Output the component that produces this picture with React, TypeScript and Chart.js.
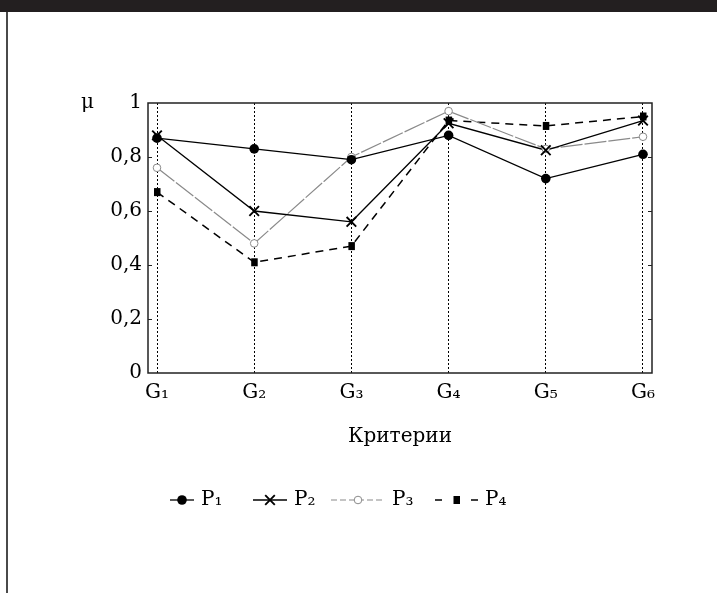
import React, { useEffect, useRef } from 'react';
import { Chart, registerables } from 'chart.js';

Chart.register(...registerables);

// ---- Data ----
const categories = ['G₁', 'G₂', 'G₃', 'G₄', 'G₅', 'G₆'];
const seriesNames = ['P₁', 'P₂', 'P₃', 'P₄'];
const p1Values = [0.87, 0.83, 0.79, 0.88, 0.72, 0.81];
const p2Values = [0.88, 0.6, 0.56, 0.925, 0.825, 0.935];
const p3Values = [0.76, 0.48, 0.8, 0.97, 0.83, 0.875];
const p4Values = [0.67, 0.41, 0.47, 0.935, 0.915, 0.95];
const yTickValues = [0, 0.2, 0.4, 0.6, 0.8, 1];
const yTickLabels = ['0', '0,2', '0,4', '0,6', '0,8', '1'];
const yAxisLabel = 'μ';
const xAxisLabel = 'Критерии';

const FONT = '"DejaVu Serif", "Liberation Serif", serif';
const FSIZE = 20;

type Marker = 'dot' | 'x' | 'ring' | 'square';

function drawMarker(ctx: CanvasRenderingContext2D, kind: Marker, x: number, y: number, color: string) {
  ctx.save();
  ctx.setLineDash([]);
  if (kind === 'dot') {
    ctx.fillStyle = color;
    ctx.beginPath();
    ctx.arc(x, y, 4.8, 0, Math.PI * 2);
    ctx.fill();
  } else if (kind === 'x') {
    ctx.strokeStyle = color;
    ctx.lineWidth = 1.9;
    ctx.beginPath();
    ctx.moveTo(x - 4.8, y - 4.8);
    ctx.lineTo(x + 4.8, y + 4.8);
    ctx.moveTo(x + 4.8, y - 4.8);
    ctx.lineTo(x - 4.8, y + 4.8);
    ctx.stroke();
  } else if (kind === 'ring') {
    ctx.fillStyle = '#fff';
    ctx.strokeStyle = color;
    ctx.lineWidth = 1;
    ctx.beginPath();
    ctx.arc(x, y, 3.8, 0, Math.PI * 2);
    ctx.fill();
    ctx.stroke();
  } else {
    ctx.fillStyle = color;
    ctx.fillRect(x - 3, y - 4, 6.5, 8);
  }
  ctx.restore();
}

const seriesStyles = [
  { color: '#000000', width: 1.3, dash: [] as number[], marker: 'dot' as Marker, legendDash: [] as number[], legendX: 170, legendW: 24 },
  { color: '#000000', width: 1.3, dash: [] as number[], marker: 'x' as Marker, legendDash: [] as number[], legendX: 253, legendW: 34 },
  { color: '#8a8a8a', width: 1.2, dash: [22, 2], marker: 'ring' as Marker, legendDash: [6, 3], legendX: 331, legendW: 54 },
  { color: '#000000', width: 1.5, dash: [8, 6], marker: 'square' as Marker, legendDash: [7, 29], legendX: 435, legendW: 43 },
];

const framePlugin = {
  id: 'frameAndText',
  afterDraw(chart: any) {
    const ctx: CanvasRenderingContext2D = chart.ctx;
    const { left, right, top, bottom } = chart.chartArea;
    const yScale = chart.scales.y;
    ctx.save();
    // frame
    ctx.strokeStyle = '#222';
    ctx.lineWidth = 1.5;
    ctx.setLineDash([]);
    ctx.strokeRect(left, top, right - left, bottom - top);
    // inward ticks on both sides
    ctx.lineWidth = 1;
    yTickValues.forEach((v) => {
      if (v === 0 || v === 1) return;
      const py = Math.round(yScale.getPixelForValue(v)) + 0.5;
      ctx.beginPath();
      ctx.moveTo(left, py);
      ctx.lineTo(left + 4, py);
      ctx.moveTo(right, py);
      ctx.lineTo(right - 4, py);
      ctx.stroke();
    });
    // axis titles
    ctx.fillStyle = '#000';
    ctx.font = `${FSIZE}px ${FONT}`;
    ctx.textAlign = 'left';
    ctx.textBaseline = 'alphabetic';
    ctx.fillText(yAxisLabel, 81, 108);
    ctx.textAlign = 'center';
    ctx.textBaseline = 'middle';
    ctx.fillText(xAxisLabel, (left + right) / 2, 437);
    // legend
    const ly = 500;
    chart.data.datasets.forEach((ds: any, i: number) => {
      const st = seriesStyles[i];
      ctx.save();
      ctx.strokeStyle = st.color;
      ctx.lineWidth = st.width;
      ctx.setLineDash(st.legendDash);
      ctx.beginPath();
      ctx.moveTo(st.legendX, ly);
      ctx.lineTo(st.legendX + st.legendW, ly);
      ctx.stroke();
      ctx.restore();
      drawMarker(ctx, st.marker, st.legendX + st.legendW / 2, ly, st.color);
      ctx.fillStyle = '#000';
      ctx.font = `${FSIZE}px ${FONT}`;
      ctx.textAlign = 'left';
      ctx.textBaseline = 'middle';
      ctx.fillText(ds.label, st.legendX + st.legendW + 7, ly);
    });
    ctx.restore();
  },
};

const markerPlugin = {
  id: 'customMarkers',
  afterDatasetsDraw(chart: any) {
    const ctx: CanvasRenderingContext2D = chart.ctx;
    for (let i = chart.data.datasets.length - 1; i >= 0; i--) {
      const meta = chart.getDatasetMeta(i);
      const st = seriesStyles[i];
      meta.data.forEach((pt: any) => {
        drawMarker(ctx, st.marker, pt.x, pt.y, st.color);
      });
    }
  },
};

export default function App() {
  const canvasRef = useRef<HTMLCanvasElement | null>(null);

  useEffect(() => {
    const canvas = canvasRef.current;
    if (!canvas) return;
    const allSeries = [p1Values, p2Values, p3Values, p4Values];
    const chart = new Chart(canvas, {
      type: 'line',
      data: {
        datasets: allSeries.map((vals, i) => ({
          label: seriesNames[i],
          data: vals.map((v, j) => ({ x: j, y: v })),
          borderColor: seriesStyles[i].color,
          borderWidth: seriesStyles[i].width,
          borderDash: seriesStyles[i].dash,
          pointRadius: 0,
          pointHoverRadius: 0,
          tension: 0,
          fill: false,
        })),
      },
      options: {
        animation: false,
        responsive: false,
        devicePixelRatio: 1,
        layout: { padding: { left: 0, top: 103, right: 65, bottom: 170 } },
        plugins: { legend: { display: false }, tooltip: { enabled: false } },
        scales: {
          x: {
            type: 'linear',
            min: -0.0926,
            max: 5.0926,
            afterBuildTicks: (scale: any) => {
              scale.ticks = categories.map((_, i) => ({ value: i }));
            },
            afterFit: (scale: any) => {
              scale.height = 50;
            },
            ticks: {
              autoSkip: false,
              maxRotation: 0,
              padding: 8,
              color: '#000',
              font: { family: FONT, size: FSIZE },
              callback: (v: any) => categories[Math.round(Number(v))] ?? '',
            },
            grid: { display: true, color: '#000', lineWidth: 1, drawTicks: false },
            border: { display: false, dash: [2, 2] },
          },
          y: {
            type: 'linear',
            min: 0,
            max: 1,
            afterBuildTicks: (scale: any) => {
              scale.ticks = yTickValues.map((v) => ({ value: v }));
            },
            afterFit: (scale: any) => {
              scale.width = 148;
            },
            ticks: {
              padding: 6,
              color: '#000',
              font: { family: FONT, size: FSIZE },
              callback: (v: any) => {
                const idx = yTickValues.findIndex((t) => Math.abs(t - Number(v)) < 1e-6);
                return idx >= 0 ? yTickLabels[idx] : '';
              },
            },
            grid: { display: false, drawTicks: false },
            border: { display: false },
          },
        },
      },
      plugins: [markerPlugin, framePlugin],
    });
    return () => chart.destroy();
  }, []);

  return (
    <div style={{ position: 'fixed', left: 0, top: 0, width: 717, height: 593, background: '#fff', overflow: 'hidden' }}>
      <canvas ref={canvasRef} width={717} height={593} style={{ position: 'absolute', left: 0, top: 0, width: 717, height: 593 }} />
      <div style={{ position: 'absolute', left: 0, top: 0, width: 717, height: 12, background: '#231f20' }} />
      <div style={{ position: 'absolute', left: 6, top: 12, width: 2, height: 581, background: '#4a4a4a' }} />
    </div>
  );
}
